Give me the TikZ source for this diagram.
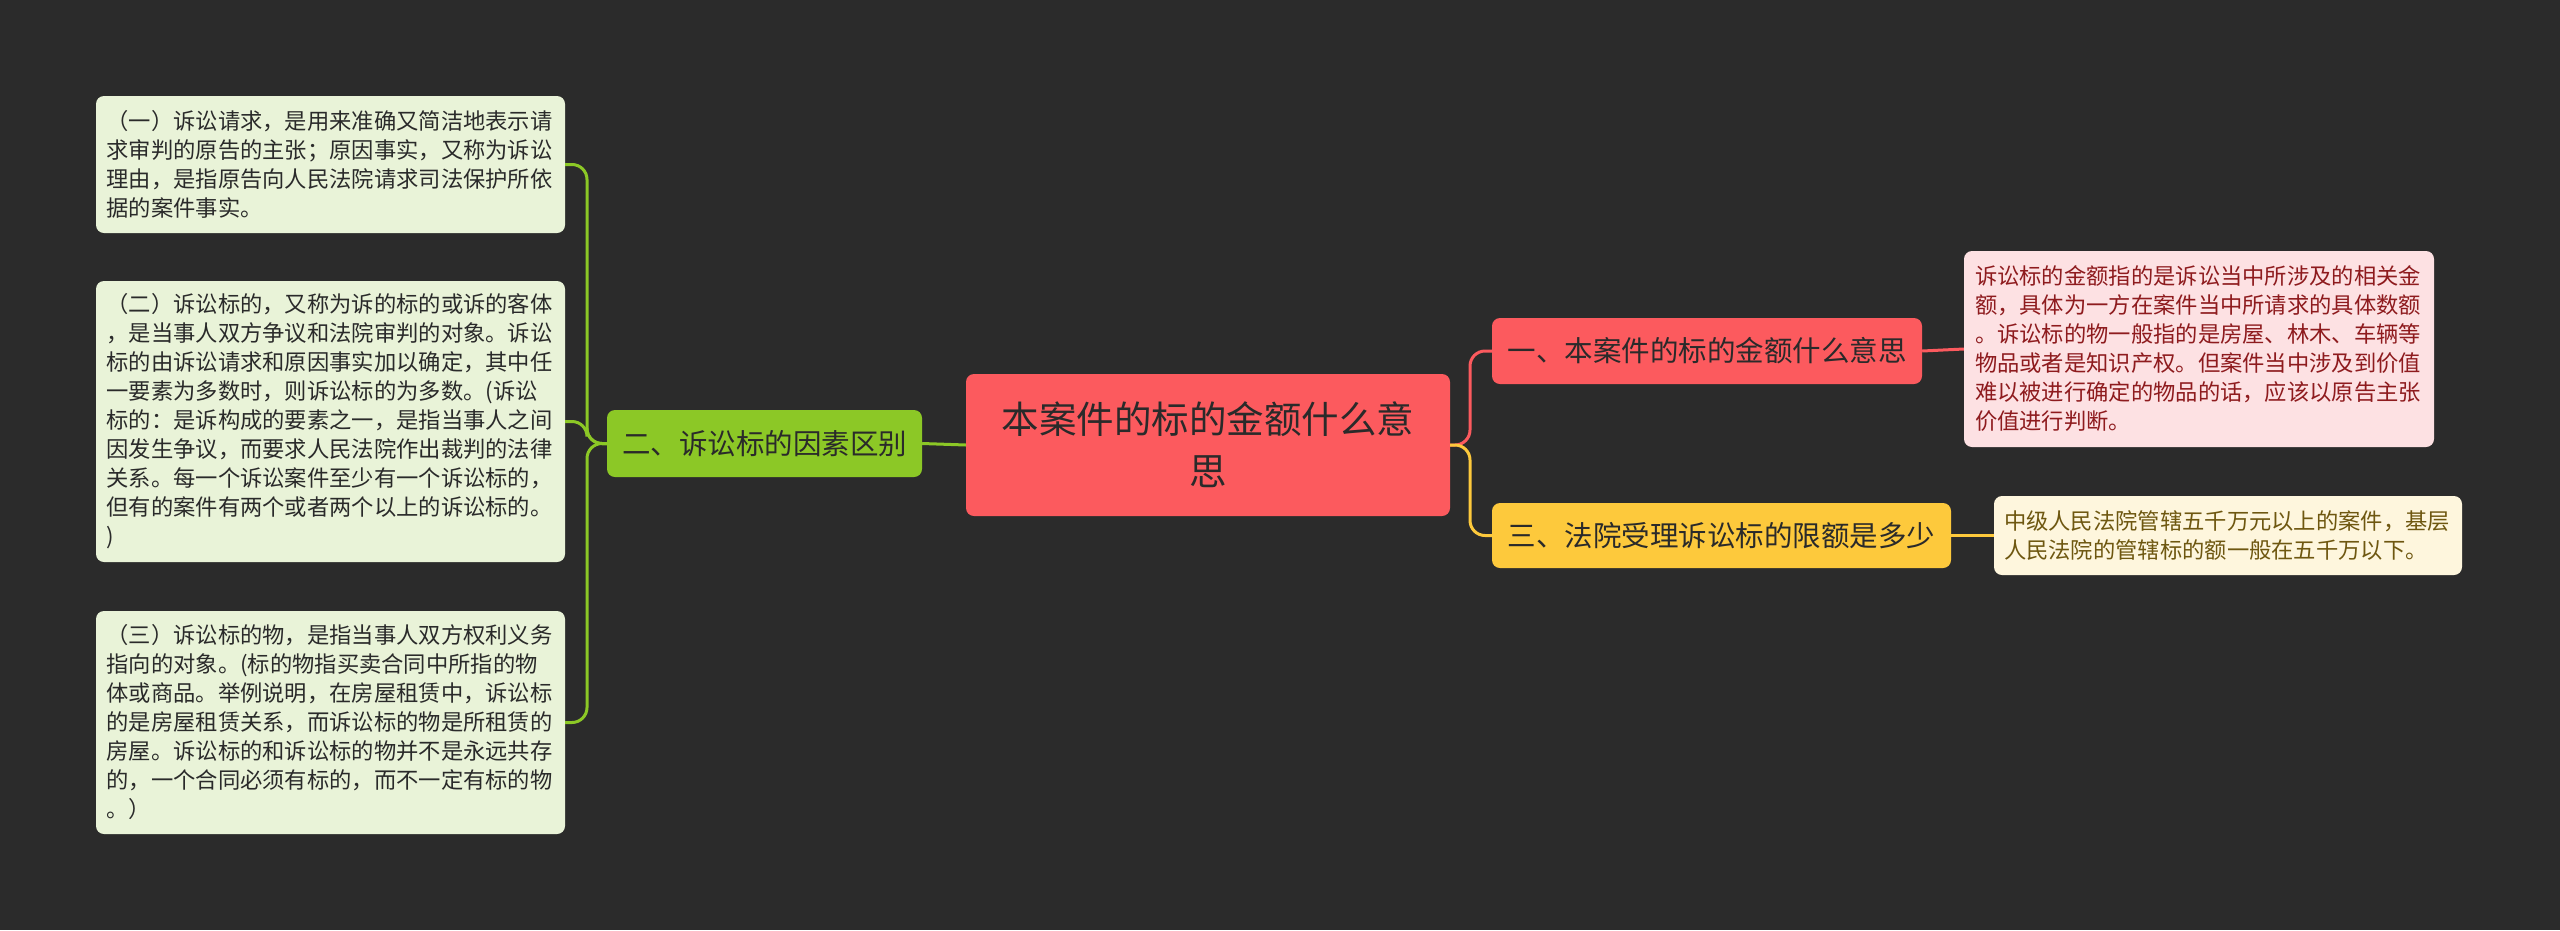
\documentclass[tikz,border=0pt]{standalone}
\usepackage{fontspec}
\newfontfamily\cjk{Noto Sans CJK SC}
\definecolor{bg}{HTML}{2B2B2B}
\definecolor{centralred}{HTML}{FC5A5E}
\definecolor{branchgreen}{HTML}{8CC826}
\definecolor{leafgreen}{HTML}{E9F3D8}
\definecolor{leafpink}{HTML}{FDE1E3}
\definecolor{pinktext}{HTML}{8E1B1E}
\definecolor{branchyellow}{HTML}{FDC93C}
\definecolor{leafyellow}{HTML}{FEF6DD}
\definecolor{yellowtext}{HTML}{6E5710}
\definecolor{darktext}{HTML}{2A2A2A}
\begin{document}
\begin{tikzpicture}[x=1pt,y=-1pt,
  basebox/.style={rounded corners=8pt,inner sep=0pt,anchor=center,font=\cjk},
  leafbox/.style={basebox,align=left,text width=448pt,
     font=\cjk\fontsize{22.3}{29}\selectfont},
  lgreen/.style={leafbox,fill=leafgreen,text=darktext,minimum width=469pt},
  midnode/.style={basebox,align=center,font=\cjk\fontsize{28.5}{34}\selectfont},
  conn/.style={line width=3pt,rounded corners=15pt},
]
\fill[bg] (0,0) rectangle (2560,930);
\useasboundingbox (0,0) rectangle (2560,930);

% central
\node[basebox,fill=centralred,text=darktext,minimum width=484pt,minimum height=142pt,
  align=center,text width=460pt,font=\cjk\fontsize{37.5}{52}\selectfont]
  (c) at (1208,445) {本案件的标的金额什么意\\思};

% left branch
\node[midnode,fill=branchgreen,text=darktext,minimum width=315pt,minimum height=67pt]
  (g) at (764.5,443.5) {二、诉讼标的因素区别};

\node[lgreen,minimum height=137pt] (l1) at (330.5,164.5)
 {（一）诉讼请求，是用来准确又简洁地表示请\\求审判的原告的主张；原因事实，又称为诉讼\\理由，是指原告向人民法院请求司法保护所依\\据的案件事实。};
\node[lgreen,minimum height=281pt] (l2) at (330.5,421.5)
 {（二）诉讼标的，又称为诉的标的或诉的客体\\，是当事人双方争议和法院审判的对象。诉讼\\标的由诉讼请求和原因事实加以确定，其中任\\一要素为多数时，则诉讼标的为多数。(诉讼\\标的：是诉构成的要素之一，是指当事人之间\\因发生争议，而要求人民法院作出裁判的法律\\关系。每一个诉讼案件至少有一个诉讼标的，\\但有的案件有两个或者两个以上的诉讼标的。\\)};
\node[lgreen,minimum height=223pt] (l3) at (330.5,722.5)
 {（三）诉讼标的物，是指当事人双方权利义务\\指向的对象。(标的物指买卖合同中所指的物\\体或商品。举例说明，在房屋租赁中，诉讼标\\的是房屋租赁关系，而诉讼标的物是所租赁的\\房屋。诉讼标的和诉讼标的物并不是永远共存\\的，一个合同必须有标的，而不一定有标的物\\。）};

% right branches
\node[midnode,fill=centralred,text=darktext,minimum width=430pt,minimum height=66pt]
  (r1) at (1707,351) {一、本案件的标的金额什么意思};
\node[midnode,fill=branchyellow,text=darktext,minimum width=459pt,minimum height=65pt]
  (r3) at (1721.5,535.5) {三、法院受理诉讼标的限额是多少};

\node[leafbox,fill=leafpink,text=pinktext,minimum width=470pt,minimum height=196pt]
  (p1) at (2199,349)
 {诉讼标的金额指的是诉讼当中所涉及的相关金\\额，具体为一方在案件当中所请求的具体数额\\。诉讼标的物一般指的是房屋、林木、车辆等\\物品或者是知识产权。但案件当中涉及到价值\\难以被进行确定的物品的话，应该以原告主张\\价值进行判断。};
\node[leafbox,fill=leafyellow,text=yellowtext,minimum width=468pt,minimum height=79pt]
  (y1) at (2228,535.5)
 {中级人民法院管辖五千万元以上的案件，基层\\人民法院的管辖标的额一般在五千万以下。};

% trunk coordinates
\coordinate (lt) at (587,443.5);
\coordinate (rt) at (1470,445);

% connectors left
\draw[branchgreen,line width=3pt] (c.west) -- (g.east);
\draw[branchgreen,conn] (g.west) -- (lt) |- (l1.east);
\draw[branchgreen,conn] (g.west) -- (lt) |- (l2.east);
\draw[branchgreen,conn] (g.west) -- (lt) |- (l3.east);

% connectors right
\draw[centralred,conn] (c.east) -- (rt) |- (r1.west);
\draw[branchyellow,conn] (c.east) -- (rt) |- (r3.west);
\draw[centralred,line width=3pt] (r1.east) -- (p1.west);
\draw[branchyellow,line width=3pt] (r3.east) -- (y1.west);
\end{tikzpicture}
\end{document}
